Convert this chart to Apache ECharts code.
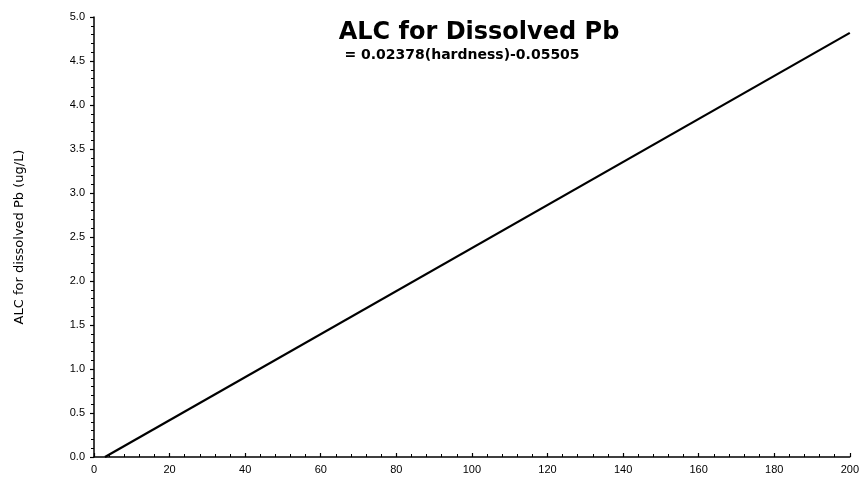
<!DOCTYPE html>
<html>
<head>
<meta charset="utf-8">
<script src="https://cdn.jsdelivr.net/npm/echarts@6/dist/echarts.min.js"></script>
<style>
  html, body { margin: 0; padding: 0; background: #fff; }
  #chart { width: 862px; height: 480px; }
</style>
</head>
<body>
<div id="chart"></div>
<script>
// Hardness (x) and ALC for dissolved Pb (y) at the ends of the plotted line
const hardness = [2.9, 200];
const alcValues = [0, 4.82];
const xTicks = [0, 20, 40, 60, 80, 100, 120, 140, 160, 180, 200];
const yTicks = [0.0, 0.5, 1.0, 1.5, 2.0, 2.5, 3.0, 3.5, 4.0, 4.5, 5.0];

const lineData = hardness.map((h, i) => [h, alcValues[i]]);
const labelFont = 'Liberation Sans, Arial, sans-serif';
const titleFont = 'DejaVu Sans, sans-serif';

const chart = echarts.init(document.getElementById('chart'), null, { renderer: 'canvas' });
chart.setOption({
  backgroundColor: '#ffffff',
  animation: false,
  title: [
    {
      text: 'ALC for Dissolved Pb',
      left: 479,
      textAlign: 'center',
      top: 21,
      padding: 0,
      textStyle: { fontFamily: titleFont, fontSize: 24, fontWeight: 'bold', color: '#000' }
    },
    {
      text: '= 0.02378(hardness)-0.05505',
      left: 462,
      textAlign: 'center',
      top: 48,
      padding: 0,
      textStyle: { fontFamily: titleFont, fontSize: 14, fontWeight: 'bold', color: '#000' }
    }
  ],
  grid: { left: 94, right: 10, top: 17, bottom: 23, containLabel: false },
  xAxis: {
    type: 'value',
    min: xTicks[0],
    max: xTicks[xTicks.length - 1],
    interval: 20,
    axisLine: { show: true, onZero: false, lineStyle: { color: '#000', width: 1.5 } },
    axisTick: { show: true, inside: true, length: 4, lineStyle: { color: '#000', width: 1.2 } },
    minorTick: { show: true, splitNumber: 5, length: 3, lineStyle: { color: '#000', width: 1 } },
    splitLine: { show: false },
    axisLabel: { fontFamily: labelFont, fontSize: 11, color: '#000', margin: 7, showMaxLabel: true }
  },
  yAxis: {
    type: 'value',
    min: yTicks[0],
    max: yTicks[yTicks.length - 1],
    interval: 0.5,
    name: 'ALC for dissolved Pb (ug/L)',
    nameLocation: 'middle',
    nameGap: 68,
    nameTextStyle: { fontFamily: titleFont, fontSize: 13, color: '#000' },
    axisLine: { show: true, lineStyle: { color: '#000', width: 1.5 } },
    axisTick: { show: true, inside: false, length: 4, lineStyle: { color: '#000', width: 1.2 } },
    minorTick: { show: true, splitNumber: 5, length: 3, lineStyle: { color: '#000', width: 1 } },
    splitLine: { show: false },
    axisLabel: {
      fontFamily: labelFont, fontSize: 11, color: '#000', margin: 9,
      formatter: v => v.toFixed(1)
    }
  },
  series: [{
    type: 'line',
    data: lineData,
    symbol: 'none',
    lineStyle: { color: '#000', width: 2.2 }
  }]
});
</script>
</body>
</html>
